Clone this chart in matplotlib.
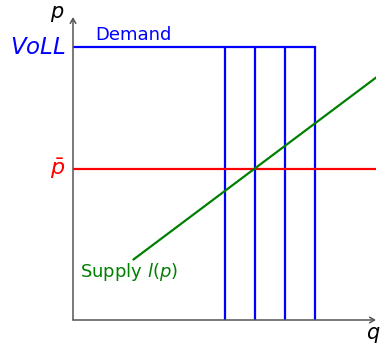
import matplotlib
matplotlib.use("Agg")
import matplotlib.pyplot as plt

# data
demand_steps = [5, 6, 7, 8]       # q positions of vertical demand lines
voll = 9.0                         # VoLL price level
pbar = 5.0                         # price cap level
supply_q = [2, 10]
supply_p = [2, 8]
xmax, ymax = 10, 10

W, H = 383, 346
fig = plt.figure(figsize=(W/100, H/100), dpi=100)
x0, y0, x1, y1 = 73, 320, 376, 17
ax = fig.add_axes([x0/W, 1 - y0/H, (x1-x0)/W, (y0-y1)/H])
ax.set_xlim(0, xmax)
ax.set_ylim(0, ymax)
ax.axis('off')
plt.rcParams['mathtext.fontset'] = 'dejavusans'

axcol = '#555555'
ax.annotate('', xy=(xmax, 0), xytext=(0, 0),
            arrowprops=dict(arrowstyle='->,head_length=0.35,head_width=0.2', color=axcol, lw=1.1, shrinkA=0, shrinkB=0))
ax.annotate('', xy=(0, ymax), xytext=(0, 0),
            arrowprops=dict(arrowstyle='->,head_length=0.35,head_width=0.2', color=axcol, lw=1.1, shrinkA=0, shrinkB=0))

# demand
ax.plot([0, demand_steps[-1]], [voll, voll], color='blue', lw=1.6, solid_capstyle='projecting')
for q in demand_steps:
    ax.plot([q, q], [0, voll], color='blue', lw=1.6, solid_capstyle='butt')

# price cap
ax.plot([0, xmax], [pbar, pbar], color='red', lw=1.6)

# supply
ax.plot(supply_q, supply_p, color='green', lw=1.6)

# labels
ax.text(-0.3, ymax + 0.1, r'$p$', fontsize=15, ha='right', va='center', color='black')
ax.text(xmax - 0.1, -0.5, r'$q$', fontsize=15, ha='center', va='center', color='black')
ax.text(-0.25, voll, r'$VoLL$', fontsize=16.5, ha='right', va='center', color='blue')
ax.text(-0.25, pbar, r'$\bar{p}$', fontsize=16, ha='right', va='center', color='red')
ax.text(0.75, voll + 0.1, 'Demand', fontsize=13, ha='left', va='bottom', color='blue')
ax.text(0.22, 1.6, r'Supply $l(p)$', fontsize=13, ha='left', va='center', color='green')

fig.savefig('out.png', dpi=100)
